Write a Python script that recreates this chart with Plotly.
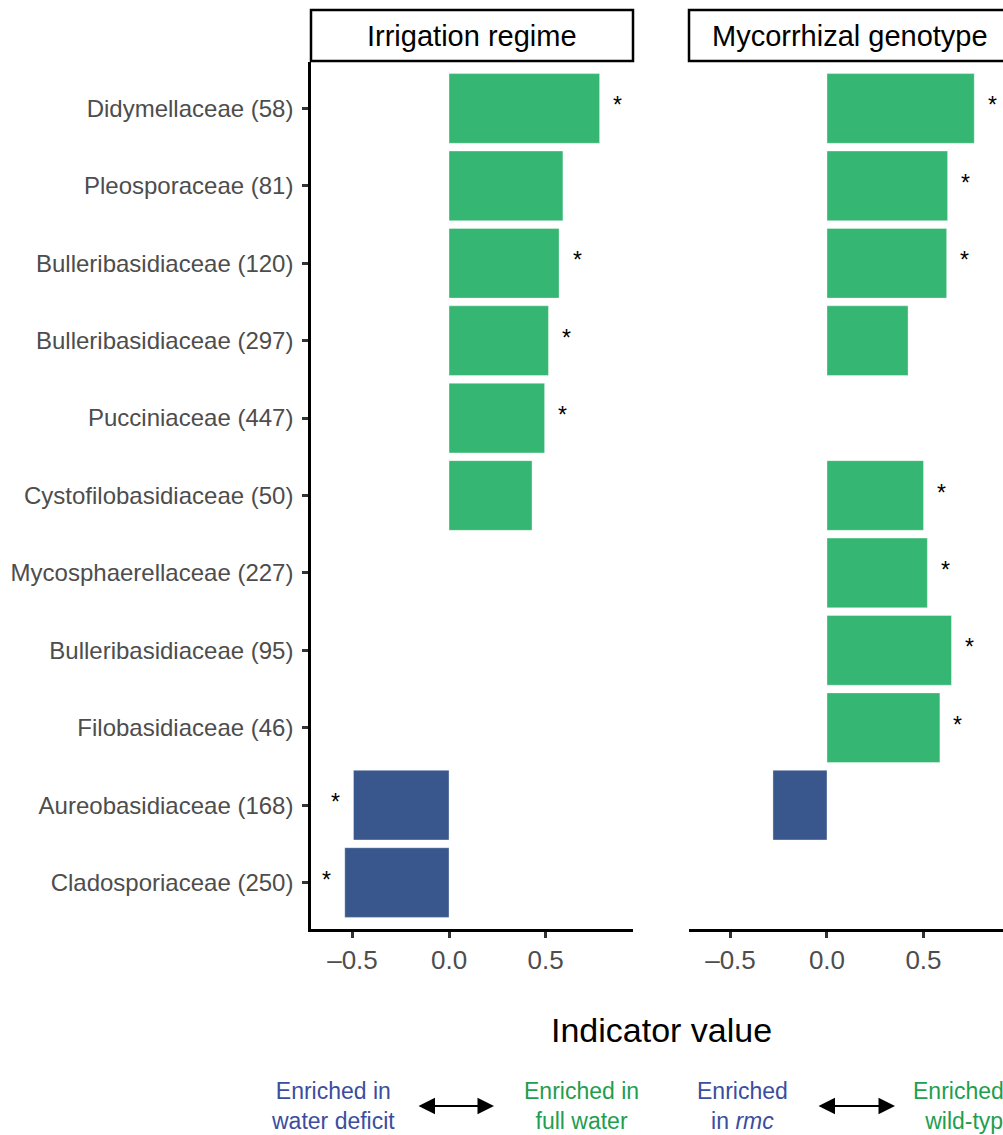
import plotly.graph_objects as go

families = ["Didymellaceae (58)", "Pleosporaceae (81)", "Bulleribasidiaceae (120)",
            "Bulleribasidiaceae (297)", "Pucciniaceae (447)", "Cystofilobasidiaceae (50)",
            "Mycosphaerellaceae (227)", "Bulleribasidiaceae (95)", "Filobasidiaceae (46)",
            "Aureobasidiaceae (168)", "Cladosporiaceae (250)"]
irrigation = [0.78, 0.59, 0.57, 0.515, 0.495, 0.43, 0.0, 0.0, 0.0, -0.495, -0.54]
irrigation_sig = [True, False, True, True, True, False, False, False, False, True, True]
genotype = [0.763, 0.625, 0.62, 0.42, 0.0, 0.50, 0.52, 0.645, 0.585, -0.28, 0.0]
genotype_sig = [True, True, True, False, False, True, True, True, True, False, False]
panel_titles = ["Irrigation regime", "Mycorrhizal genotype"]
xticks = [-0.5, 0.0, 0.5]
xtick_labels = ["\u20130.5", "0.0", "0.5"]

GREEN = "#35B672"
BLUE = "#39578C"
W, H = 1003, 1135
FONT = "Liberation Sans, Arial, sans-serif"

fig = go.Figure()
ypos = list(range(len(families)))

def colors(vals):
    return [GREEN if v >= 0 else BLUE for v in vals]

for i, (vals, sig) in enumerate([(irrigation, irrigation_sig), (genotype, genotype_sig)]):
    xa = "x" if i == 0 else "x2"
    ya = "y" if i == 0 else "y2"
    fig.add_trace(go.Bar(x=vals, y=ypos, orientation="h", width=0.9,
                         marker=dict(color=colors(vals), line=dict(width=0.6, color="rgba(255,255,255,0.6)")),
                         xaxis=xa, yaxis=ya, showlegend=False, hoverinfo="skip"))
    for j, (v, s) in enumerate(zip(vals, sig)):
        if s:
            fig.add_annotation(x=v, y=j, xref=xa, yref=ya, text="*", showarrow=False,
                               xanchor="center", yanchor="middle",
                               xshift=18 if v >= 0 else -18, yshift=3,
                               font=dict(size=23, color="black", family=FONT))

px = lambda p: p / W
py = lambda p: 1 - p / H
ydom = [py(929), py(62)]
common_x = dict(tickvals=xticks, ticktext=xtick_labels, showgrid=False, zeroline=False,
                showline=True, linecolor="black", linewidth=2.5, ticks="outside", ticklen=6,
                tickwidth=2.5, tickcolor="#333333",
                tickfont=dict(size=26, color="#4d4d4d", family=FONT))
common_y = dict(range=[10.6, -0.6], showgrid=False, zeroline=False, domain=ydom)

fig.update_layout(
    width=W, height=H, margin=dict(l=0, r=0, t=0, b=0),
    plot_bgcolor="white", paper_bgcolor="white", bargap=0.1,
    xaxis=dict(domain=[px(311), px(633)], range=[-0.715, 0.953], anchor="y", **common_x),
    xaxis2=dict(domain=[px(689), 1.0], range=[-0.715, 0.912], anchor="y2", **common_x),
    yaxis=dict(anchor="x", tickvals=ypos, ticktext=families, showline=True, linecolor="black",
               linewidth=2.5, ticks="outside", ticklen=6, tickwidth=2.5, tickcolor="#333333",
               ticklabelstandoff=4,
               tickfont=dict(size=24, color="#4d4d4d", family=FONT), **common_y),
    yaxis2=dict(anchor="x2", showticklabels=False, showline=False, ticks="", **common_y),
)

# strip boxes
for x0, x1, title in [(311, 633, panel_titles[0]), (689, 1011, panel_titles[1])]:
    fig.add_shape(type="rect", xref="paper", yref="paper", x0=px(x0), x1=px(x1),
                  y0=py(61), y1=py(10), line=dict(color="black", width=2.5), fillcolor="white")
    fig.add_annotation(xref="paper", yref="paper", x=px((x0 + x1) / 2), y=py(36), text=title,
                       xanchor="center", yanchor="middle",
                       showarrow=False, font=dict(size=29, color="black", family=FONT))

fig.add_annotation(xref="paper", yref="paper", x=px(661), y=py(1030), text="Indicator value",
                   xanchor="center", yanchor="middle",
                   showarrow=False, font=dict(size=34, color="black", family=FONT))

BLUE_T = "#3B4DA0"
GREEN_T = "#1E9E4E"
bottom = [(333, "Enriched in<br>water deficit", BLUE_T), (581, "Enriched in<br>full water", GREEN_T),
          (742, "Enriched<br>in <i>rmc</i>", BLUE_T), (970, "Enriched in<br>wild-type", GREEN_T)]
for xc, txt, col in bottom:
    fig.add_annotation(xref="paper", yref="paper", x=px(xc), y=py(1106), text=txt, showarrow=False,
                       xanchor="center", yanchor="middle",
                       font=dict(size=23, color=col, family=FONT), align="center")

for x0, x1 in [(417, 494), (817, 895)]:
    fig.add_annotation(xref="paper", yref="paper", x=px(x1), y=py(1106), ax=-(x1 - x0), ay=0,
                       axref="pixel", ayref="pixel", text="", showarrow=True,
                       arrowhead=2, arrowside="end+start", arrowsize=1.5, arrowwidth=2.2,
                       arrowcolor="black")

fig.write_html("out.html")
